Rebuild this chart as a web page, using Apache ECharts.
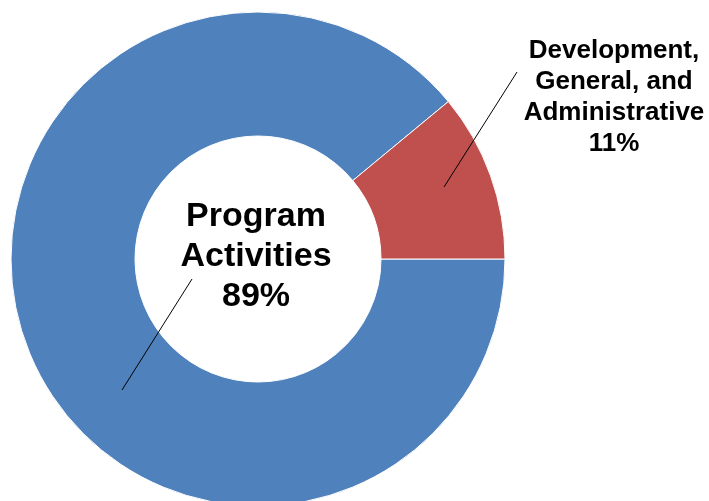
<!DOCTYPE html>
<html>
<head>
<meta charset="utf-8">
<script src="https://cdn.jsdelivr.net/npm/echarts@6/dist/echarts.min.js"></script>
<style>
html,body{margin:0;padding:0;background:#fff;}
#chart{width:709px;height:501px;}
</style>
</head>
<body>
<div id="chart"></div>
<script>
const categories = ['Program\nActivities', 'Development,\nGeneral, and\nAdministrative'];
const values = [89, 11];
const colors = ['#4F81BD', '#C0504D'];

const chart = echarts.init(document.getElementById('chart'), null, {renderer: 'canvas'});
const labelPos = [
  {x: 256, y: 257, size: 34, lh: 40},
  {x: 614, y: 97, size: 26, lh: 31}
];
chart.setOption({
  animation: false,
  backgroundColor: '#fff',
  series: [{
    type: 'pie',
    center: [258, 259],
    radius: [123, 247],
    startAngle: 0,
    clockwise: true,
    silent: true,
    avoidLabelOverlap: false,
    itemStyle: {borderColor: '#fff', borderWidth: 1},
    label: {
      show: true,
      position: 'outside',
      formatter: p => p.name + '\n' + p.value + '%',
      fontFamily: 'Liberation Sans, Arial, sans-serif',
      fontWeight: 'bold',
      color: '#000',
      align: 'center'
    },
    labelLine: {show: false},
    labelLayout: function (p) {
      const l = labelPos[p.dataIndex];
      return {x: l.x, y: l.y, align: 'center', verticalAlign: 'middle', fontSize: l.size};
    },
    data: categories.map((c, i) => ({
      name: c,
      value: values[i],
      itemStyle: {color: colors[i]},
      label: {fontSize: labelPos[i].size, lineHeight: labelPos[i].lh}
    }))
  }],
  graphic: [
    {type: 'line', z: 100, shape: {x1: 192, y1: 279, x2: 122, y2: 390}, style: {stroke: '#000', lineWidth: 1}},
    {type: 'line', z: 100, shape: {x1: 444, y1: 187, x2: 517, y2: 72}, style: {stroke: '#000', lineWidth: 1}}
  ]
});
</script>
</body>
</html>
